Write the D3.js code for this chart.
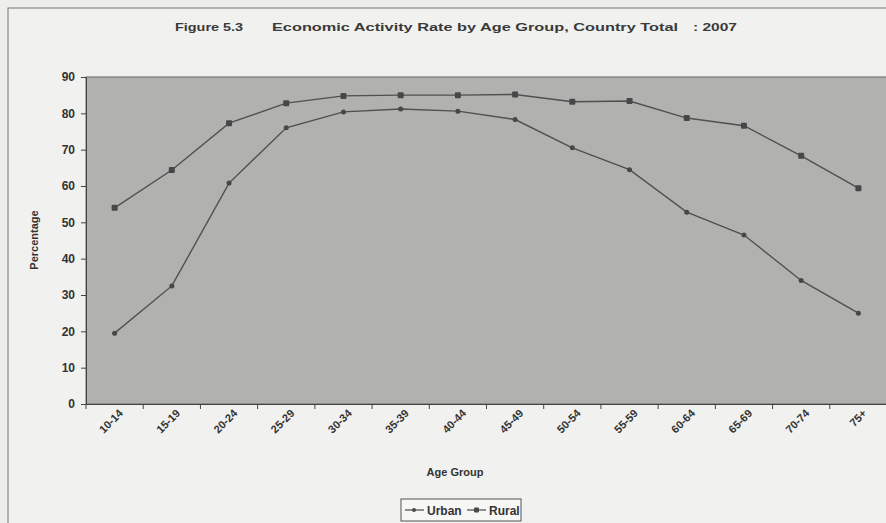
<!DOCTYPE html>
<html>
<head>
<meta charset="utf-8">
<script src="https://cdn.jsdelivr.net/npm/d3@7"></script>
<style>
  body { margin: 0; background: #eeeeec; }
  svg { display: block; font-family: "Liberation Sans", Arial, sans-serif; }
</style>
</head>
<body>
<div id="chart"></div>
<script>
var ageGroups = ["10-14","15-19","20-24","25-29","30-34","35-39","40-44","45-49","50-54","55-59","60-64","65-69","70-74","75+"];
var urban = [19.5, 32.5, 60.8, 76.0, 80.4, 81.2, 80.6, 78.3, 70.5, 64.5, 52.8, 46.5, 34.0, 25.0];
var rural = [54.0, 64.4, 77.3, 82.8, 84.8, 85.0, 85.0, 85.2, 83.2, 83.4, 78.7, 76.6, 68.3, 59.4];
var yTicks = [0,10,20,30,40,50,60,70,80,90];
var titleParts = ["Figure 5.3", "Economic Activity Rate by Age Group, Country Total", ": 2007"];

var W = 886, H = 523;
var svg = d3.select("#chart").append("svg").attr("width", W).attr("height", H);

// outer frame
svg.append("rect").attr("x",8).attr("y",8).attr("width",W).attr("height",H).attr("fill","#f1f1ef")
    .attr("stroke","#777").attr("stroke-width",1);

var pLeft = 86, pRight = 887, pTop = 77, pBottom = 404;
var x = d3.scaleBand().domain(ageGroups).range([pLeft, pRight]);
var y = d3.scaleLinear().domain([0, 90]).range([pBottom, pTop]);

// plot area
svg.append("rect").attr("x",pLeft).attr("y",pTop).attr("width",pRight-pLeft).attr("height",pBottom-pTop)
    .attr("fill","#b1b1af").attr("stroke","#666").attr("stroke-width",1);

// title, three pieces stretched to the widths seen in the scan
var tpos = [[175, 68], [272, 406], [693, 44]];
titleParts.forEach(function(t, i){
    svg.append("text").attr("x",tpos[i][0]).attr("y",31)
        .attr("font-size",11.5).attr("font-weight","bold").attr("fill","#3a3a3a")
        .attr("textLength",tpos[i][1]).attr("lengthAdjust","spacingAndGlyphs")
        .text(t);
});

// y axis
var yAxis = svg.append("g").attr("transform","translate("+pLeft+",0)")
    .call(d3.axisLeft(y).tickValues(yTicks).tickSize(5).tickPadding(6));
yAxis.select(".domain").attr("stroke","#444");
yAxis.selectAll(".tick line").attr("stroke","#444");
yAxis.selectAll("text").attr("font-size",12).attr("font-weight","bold").attr("fill","#333")
    .attr("font-family","Liberation Sans, Arial, sans-serif");

// x axis
var xAxis = svg.append("g").attr("transform","translate(0,"+pBottom+")")
    .call(d3.axisBottom(x).tickSize(5).tickSizeOuter(0));
xAxis.select(".domain").attr("stroke","#444");
xAxis.selectAll(".tick line").attr("stroke","#444").attr("transform","translate("+(-x.bandwidth()/2)+",0)");
xAxis.selectAll("text").attr("font-size",11).attr("font-weight","bold").attr("fill","#333")
    .attr("font-family","Liberation Sans, Arial, sans-serif")
    .attr("text-anchor","end").attr("dy",0).attr("y",0)
    .attr("transform","translate(9,10) rotate(-45)");

// axis titles
svg.append("text").attr("transform","translate(38,240) rotate(-90)").attr("text-anchor","middle")
    .attr("font-size",11).attr("font-weight","bold").attr("fill","#333").text("Percentage");
svg.append("text").attr("x",455).attr("y",476).attr("text-anchor","middle")
    .attr("font-size",11).attr("font-weight","bold").attr("fill","#333").text("Age Group");

// lines
var line = d3.line().x(function(d,i){ return x(ageGroups[i]) + x.bandwidth()/2; }).y(function(d){ return y(d); });
[urban, rural].forEach(function(series, k){
    svg.append("path").datum(series).attr("d", line).attr("fill","none")
        .attr("stroke","#505050").attr("stroke-width",1.4);
    svg.selectAll(".pt"+k).data(series).enter().append("rect")
        .attr("class","pt"+k)
        .attr("x",function(d,i){ return x(ageGroups[i]) + x.bandwidth()/2 - (k ? 3 : 2.5); })
        .attr("y",function(d){ return y(d) - (k ? 3 : 2.5); })
        .attr("width", k ? 6 : 5).attr("height", k ? 6 : 5)
        .attr("rx", k ? 1 : 2.5)
        .attr("fill","#474747");
});

// legend
var lg = svg.append("g").attr("transform","translate(401,499)");
lg.append("rect").attr("width",120).attr("height",22).attr("fill","#f7f7f5").attr("stroke","#555");
var names = ["Urban","Rural"];
names.forEach(function(n, k){
    var ox = k ? 66 : 4;
    lg.append("line").attr("x1",ox).attr("x2",ox+19).attr("y1",11).attr("y2",11).attr("stroke","#555").attr("stroke-width",1.3);
    lg.append("rect").attr("x",ox+7).attr("y",k?8.5:9).attr("width",k?5:4).attr("height",k?5:4)
        .attr("rx",k?1:2).attr("fill","#4a4a4a");
    lg.append("text").attr("x",ox+22).attr("y",15.5).attr("font-size",12).attr("font-weight","bold")
        .attr("fill","#333").text(n);
});
</script>
</body>
</html>
